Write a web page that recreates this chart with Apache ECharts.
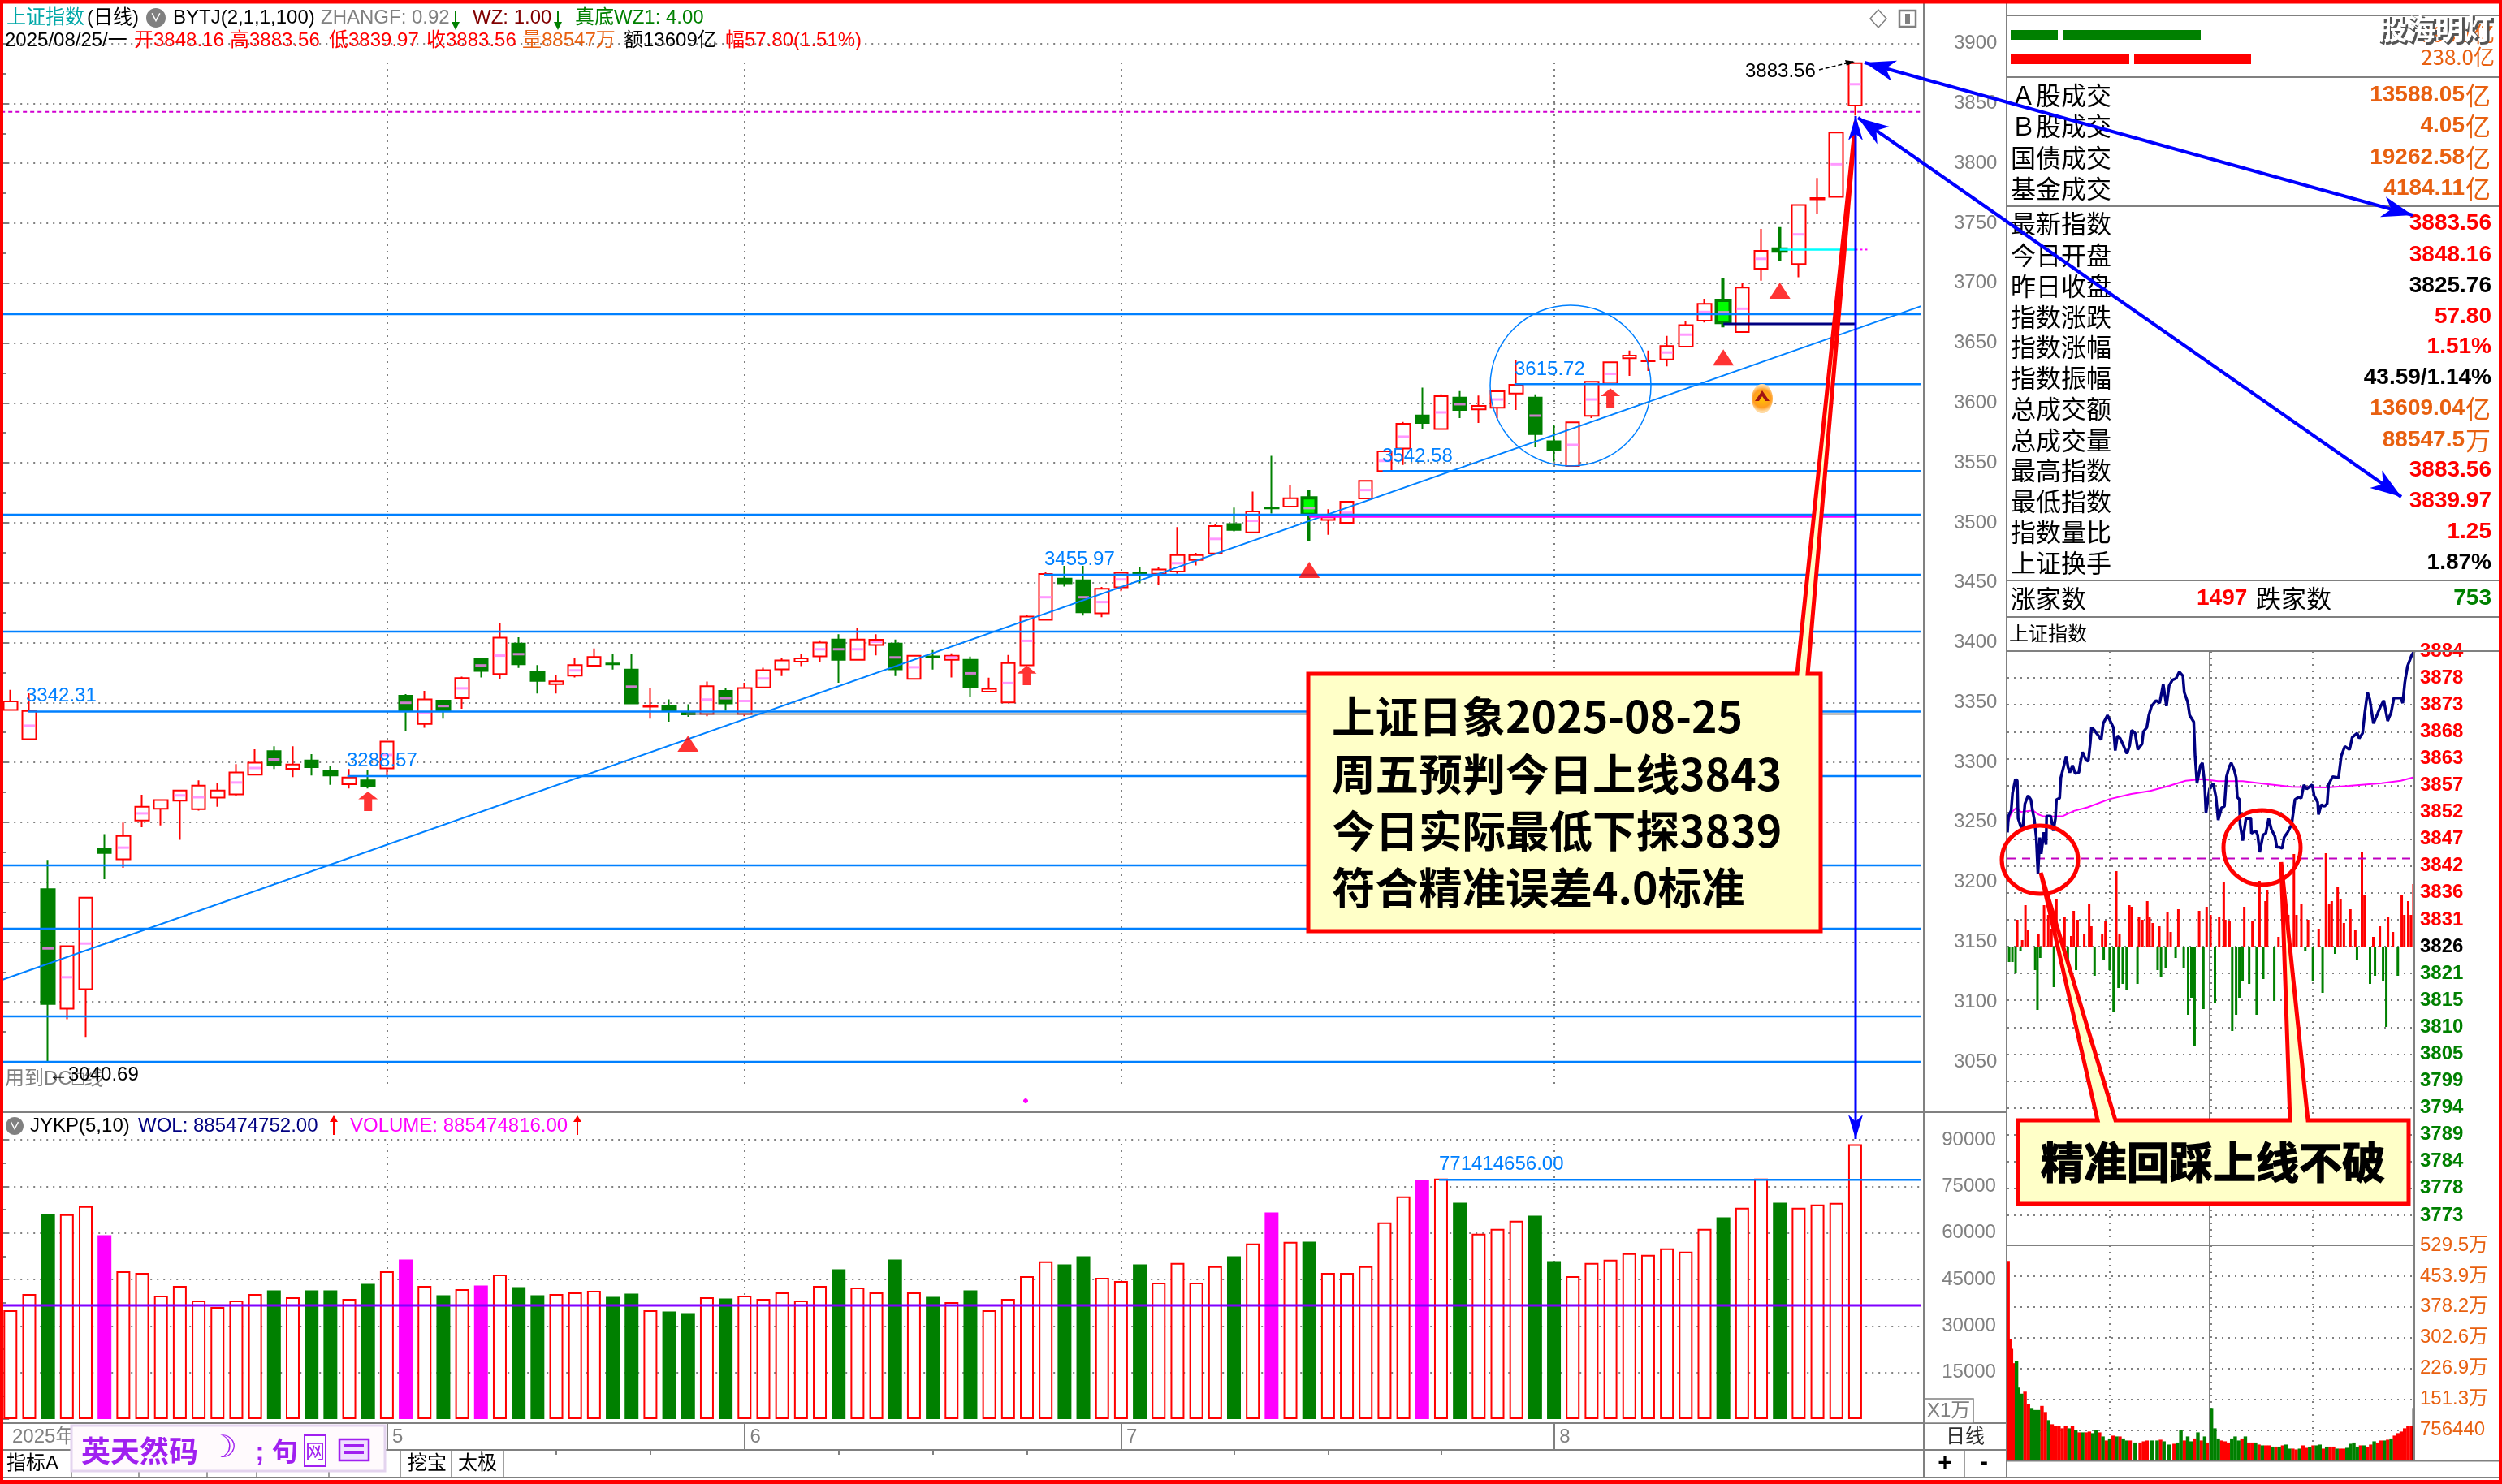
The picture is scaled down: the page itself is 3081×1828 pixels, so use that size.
<!DOCTYPE html>
<html><head><meta charset="utf-8"><style>html,body{margin:0;padding:0;background:#fff}#c{width:3081px;height:1828px}</style>
<script src="https://cdn.jsdelivr.net/npm/echarts@6/dist/echarts.min.js"></script></head><body><div id="c"></div><script>
const dates=['04-02','04-03','04-07','04-08','04-09','04-10','04-11','04-14','04-15','04-16','04-17','04-18','04-21','04-22','04-23','04-24','04-25','04-28','04-29','04-30','05-06','05-07','05-08','05-09','05-12','05-13','05-14','05-15','05-16','05-19','05-20','05-21','05-22','05-23','05-26','05-27','05-28','05-29','05-30','06-03','06-04','06-05','06-06','06-09','06-10','06-11','06-12','06-13','06-16','06-17','06-18','06-19','06-20','06-23','06-24','06-25','06-26','06-27','06-30','07-01','07-02','07-03','07-04','07-07','07-08','07-09','07-10','07-11','07-14','07-15','07-16','07-17','07-18','07-21','07-22','07-23','07-24','07-25','07-28','07-29','07-30','07-31','08-01','08-04','08-05','08-06','08-07','08-08','08-11','08-12','08-13','08-14','08-15','08-18','08-19','08-20','08-21','08-22','08-25'];
const padCats=['+1','+2','+3'];
const opens=[3343.8,3319.4,3194.1,3094.4,3110.6,3227.9,3219.1,3251.5,3261.2,3268,3260.9,3270.6,3273.2,3289.7,3309.4,3294.7,3301.5,3293.2,3281.8,3285,3295,3355.6,3332,3351.5,3353.5,3386.8,3373.8,3399.1,3375.9,3365.3,3372.4,3380.6,3382.6,3377.4,3346.5,3347,3342,3340.3,3359.7,3340.3,3362.6,3377.6,3384,3388.5,3402.6,3385.6,3398,3399.1,3369.7,3388.5,3385.6,3385.6,3359,3350,3381,3419,3453.4,3452,3424.3,3446,3458.3,3457.4,3459.2,3469,3474.3,3499,3491.9,3512.8,3513.5,3520.7,3502.3,3500,3520.3,3543.2,3562,3589.6,3578.2,3604.5,3594.6,3596,3607.9,3604.5,3568,3547.3,3589.2,3616.2,3637.4,3634.7,3636.3,3647,3668.7,3685.6,3659.2,3712,3728.5,3716,3770,3772,3848.16];
const closes=[3350.9,3342.9,3098.2,3146.5,3187,3224.4,3238.5,3262.9,3268.5,3276.5,3280.6,3276.5,3291.5,3299.7,3297.4,3298.2,3295.9,3289.1,3287.4,3279.7,3317.4,3342.9,3352.6,3342.9,3370.3,3376.2,3404.1,3381.8,3368,3367.6,3381.2,3388,3381.8,3349.1,3347.4,3342.9,3340,3363.5,3349.1,3362,3377,3385,3386.8,3400,3385.6,3402.6,3402.4,3377.6,3389,3387.8,3389,3363,3361.3,3382.9,3421.6,3457.2,3449.5,3425.2,3444.8,3458.3,3457.7,3461,3473,3473,3497.3,3494,3509.5,3511.9,3520.5,3506.8,3504.5,3517.6,3535,3559.5,3582.6,3583.3,3605.6,3594.1,3597.5,3609.7,3615.1,3573.9,3560.4,3583.8,3617.6,3634,3639.6,3635.4,3647.5,3665,3682.7,3667.1,3696.2,3727,3726.7,3765.2,3771,3825.76,3883.56];
const lows=[3343.8,3319.4,3048.8,3085.6,3070.9,3202.4,3212,3245.9,3247.4,3235.3,3259.7,3263,3271.5,3289.7,3294.4,3287.6,3289,3281.2,3278.2,3278.2,3288.5,3326.2,3328.8,3336.5,3344.7,3370.9,3369.4,3378.8,3357.4,3357.4,3370.9,3380.6,3377.4,3349.1,3336.5,3334,3338,3338.5,3343,3338.5,3362,3372,3380.3,3384,3366.5,3385.6,3389.4,3372,3369.7,3377.4,3370.9,3355,3359,3350,3381,3419,3446.8,3422.5,3421.2,3442.8,3449.5,3448.2,3457.4,3464.4,3474.3,3492.8,3491.9,3507.7,3513.5,3484.7,3490,3500,3520.3,3543,3548.2,3577.9,3578.2,3587.4,3583.3,3587.2,3594.1,3563,3550.9,3547.3,3587.4,3616.2,3622.5,3626.6,3630.6,3647,3667.1,3663,3659.2,3702,3718.5,3704.9,3758,3772,3839.97];
const highs=[3360.6,3357.6,3218.5,3146.5,3187,3240,3249.7,3272.9,3268.5,3276.5,3285,3282.4,3298.5,3310.9,3313.5,3313.5,3306.8,3297.4,3294.4,3293.2,3317.4,3357,3359.7,3351.5,3371.5,3386.8,3416.5,3404.4,3381.2,3373,3386.8,3395,3390.9,3390.9,3362.4,3352.6,3348.5,3367.4,3362.4,3366.5,3379,3387,3390.9,3401.8,3407,3412.6,3407,3402.6,3389,3393.8,3391,3388.3,3370.7,3389.6,3423.4,3458.8,3464,3464,3446.4,3458.3,3462.6,3462.6,3496.4,3474.8,3498.9,3512.6,3526,3555.9,3531.5,3527.5,3511.3,3517.6,3535,3559.5,3584.2,3612.8,3607.2,3609.9,3606.1,3609.7,3635.6,3607.2,3581.5,3583.8,3617.6,3634,3643.7,3643.7,3655.9,3668,3687,3704.5,3700.5,3745.2,3746.7,3765.2,3787.7,3825.76,3883.56];
const limeIdx=[69,91,94];
const midPrices=[null,3330.6,3144.7,3120.6,3148.8,null,3228.8,3257.4,null,3272.4,3270.9,null,3283.2,3295.3,3302.4,null,null,null,null,null,3306.2,3349.7,3341.5,3347,3361.8,3380.9,3389.1,3390.3,null,null,3376.8,null,null,3363.2,null,null,null,3352.4,3353.5,3351.2,3370,null,null,3394.4,3394.4,3394.4,3400.6,3387.6,3379.4,null,3387.6,3374.3,null,3366.2,3401.4,3437.8,null,3437.8,3433.8,3452.7,null,null,3466.2,null,3486.5,null,3501.6,null,null,3512.2,null,3508.3,3527.3,3551.6,3571.8,null,3592.1,3598.9,null,3602.9,null,3589.4,null,3565,3602.9,3624.3,null,null,3642.1,3657,3675.9,3675.7,3678.6,3720.3,null,3740.7,null,3799.2,3866];
const volumes=[35077,40315,66069,65982,68600,59259,47648,47125,39791,42934,38220,36125,38220,40315,41450,39268,41450,41450,38744,43545,47648,51402,42934,39879,41887,43021,46601,42498,39879,40315,40839,41363,39355,40402,35077,34641,34117,39268,38831,39791,38744,40839,38220,42934,48259,42410,40839,51402,40839,39355,37696,41450,35077,38744,46077,50791,49831,52450,45553,44506,49831,43982,50267,43982,49220,52450,56553,66592,57077,57164,47125,47125,49220,63362,71743,77068,77505,69735,59696,61267,63886,65545,50878,46077,50267,51315,53410,52886,54982,53934,61267,65021,68077,77505,69735,68077,69124,69648,88547];
const magentaVol=[5,21,25,67,75];
const greenVol=[2,14,16,17,19,23,27,28,32,33,35,36,38,44,47,49,51,56,57,60,65,69,77,81,82,91,94];
const fullLevels=[3674,3506.7,3409.2,3214,3161.1,3088,3050];
const partLevels=[[1.46,3342.31],[18.4,3288.57],[55.4,3456.6],[73.4,3543.2],[80.4,3615.72]];
const dashLevel=3843;
const trendLine=[[0,3118.1],[102,3680.8]];
const navyLine=[[91.5,3666],[98.5,3666]];
const grayLine=[[36.4,3340.4],[98.5,3340.4]];
const magentaLine=[[69.5,3505],[98.5,3505]];
const cyanLine=[[94.5,3728],[98.5,3728]];
const magentaDots=[[98.5,3728],[99.2,3728]];
const triMarks=[[36,3315.6],[69,3460.7],[91,3638],[94,3693.7]];
const arrowMarks=[[19,3267.5],[54,3372.5],[85,3604]];
const volAvg=36628, volHigh=77141, volHighStart=76.4;
const monthIdx={20:'5',39:'6',59:'7',82:'8'};
const weekIdx=[25,29,34,44,49,54,65,70,76];
const priceTicks=[3050,3900,50];
const volTicks=[0,90000,15000];
const tLine=[[0,3848.1],[.6,3851.3],[2.2,3852.4],[3,3855.8],[4.7,3858.5],[5.8,3858.2],[6.3,3850.8],[7.9,3849.2],[9,3848.7],[10.3,3853.7],[12.2,3855.3],[13.8,3854.5],[14.8,3852.4],[15.9,3850.5],[17,3847.1],[18,3840],[19.1,3847.1],[19.9,3843.9],[21.5,3848.1],[22.8,3845.7],[23.1,3851.3],[25.5,3851.3],[27.1,3848.4],[28.3,3850.8],[28.9,3854.5],[30.8,3854.8],[31.5,3858.8],[33.1,3860.9],[34.7,3863],[35.7,3860.9],[36.8,3859.8],[38.4,3861.2],[40,3859.6],[42.1,3859.8],[43.2,3862],[44.3,3863.8],[46.4,3862.2],[47.7,3862],[48.8,3865.4],[49.6,3868.6],[51.2,3868.1],[53.7,3867],[55.3,3866.2],[56.5,3869.4],[59,3871],[60.9,3869.7],[62.5,3868.6],[63.6,3864.1],[64.9,3867],[66.5,3866.5],[68.4,3865.1],[70.5,3863.5],[72.1,3865.1],[73.3,3868.1],[75.3,3867.5],[76.9,3864.3],[79.4,3865.4],[80.2,3867.8],[82.2,3868.6],[83.4,3871],[85,3872.8],[87.7,3873.9],[89.8,3873.4],[91.9,3877.1],[93.8,3872.8],[95.4,3876.8],[97.3,3877.9],[99.4,3878.2],[101.4,3879.5],[103.5,3878.7],[104.3,3875.5],[106.3,3873.6],[107.5,3871],[109.9,3869.7],[110.7,3863],[111.8,3857.7],[113.9,3861.2],[115,3861.7],[116.3,3857.7],[117.1,3851.9],[119.2,3856.6],[121.4,3857.7],[123,3855],[124.3,3850.5],[126.3,3852.9],[128,3853.2],[129.2,3859],[130.8,3860.9],[132,3861.7],[133.7,3860.4],[134.9,3858.8],[135.6,3855],[136.9,3854.5],[137.2,3849.7],[138.8,3846.5],[140.7,3850.8],[143.6,3850.8],[143.9,3847.9],[146.5,3848.4],[147.6,3847.6],[148.8,3844.2],[150.8,3847.6],[152.4,3847.9],[154.1,3850.8],[155.7,3848.7],[157.8,3847.3],[158.9,3845.2],[160.5,3845.2],[162.1,3845],[163.2,3847.1],[165.3,3848.1],[167.7,3849.7],[169.6,3854.5],[171.7,3855],[173.3,3854.8],[174.9,3857.4],[176.5,3856.6],[179.8,3857.4],[180.9,3855.3],[183,3854],[183.5,3851.6],[185.1,3853.5],[187,3853.2],[188.6,3853.7],[189.4,3857.4],[191.8,3859],[195.3,3858.8],[196.9,3863],[199,3864.9],[201.8,3864.3],[203.4,3866.7],[206.3,3867.5],[207.5,3866.5],[209.5,3867.5],[210.8,3871.5],[212.4,3875.5],[213.7,3874.2],[215.9,3869.4],[218.3,3871.3],[219.9,3872.6],[222,3873.9],[224.3,3869.9],[226.3,3871.5],[228,3874.4],[232,3874.4],[233.2,3873.4],[234.4,3877.4],[236,3880.6],[238.4,3882.7],[240,3883.56]];
const tAvg=[[0,3849.7],[2.2,3851.9],[5.1,3852.9],[7.9,3852.1],[15.1,3852.4],[18.3,3851.6],[20.7,3851.3],[27.2,3851.2],[32.8,3851.3],[39.2,3852.3],[47.2,3853],[60.1,3854.6],[73,3855.6],[84.2,3856.2],[95.4,3857.2],[105.1,3858.2],[114.7,3858.5],[124.3,3858.1],[138.8,3858.1],[151.6,3857.6],[167.7,3857],[188.6,3856.9],[201.5,3857.2],[220.7,3857.7],[232,3858.2],[240,3858.9]];
const tBase=3825.76, tStep=5.2545;
const tLabels=['3768','3773','3778','3784','3789','3794','3799','3805','3810','3815','3821','3826','3831','3836','3842','3847','3852','3857','3863','3868','3873','3878','3884'];
const flowUp=[[5.8,33],[8.7,8],[10.6,51],[12.1,20],[18.3,15],[21.6,51],[24.1,39],[26,22],[28.9,58],[33.7,36],[37.6,13],[39.1,44],[41.4,33],[45.3,15],[48.2,52],[49.5,25],[55.9,15],[57.8,32],[64.2,93],[66.1,15],[71.9,51],[73.2,49],[77.6,36],[79.6,33],[82.5,56],[83.8,36],[85.7,29],[89.6,25],[94.4,42],[96.3,18],[100.8,46],[113.1,44],[117.5,49],[119.8,39],[124.9,36],[127.6,80],[128.5,33],[131,32],[139.7,49],[144.5,32],[148.7,81],[152.2,56],[153.2,70],[159.9,12],[163.8,46],[165.7,39],[169,114],[170.5,39],[173.4,52],[177.3,33],[183.6,22],[187.9,115],[189.8,52],[191.3,56],[194.8,73],[196.5,59],[198.5,29],[202.3,46],[205.2,20],[209.1,117],[210.6,63],[215.8,12],[219.7,25],[224.5,36],[227.4,18],[232.6,63],[234.1,39],[236.4,56],[238,39],[239.5,77]];
const flowDown=[[1,-19],[2.9,-19],[4.8,-33],[7.7,-5],[16.4,-29],[17.7,-78],[19.3,-14],[27.4,-50],[35.6,-22],[40.5,-29],[51.4,-36],[56.8,-17],[60.3,-29],[62.6,-80],[65.5,-51],[68,-46],[70.3,-53],[76.7,-46],[88.6,-29],[90.6,-37],[93.4,-26],[99.2,-14],[104,-26],[106.6,-84],[108.5,-63],[110.4,-122],[115.6,-77],[122.4,-70],[132.6,-104],[134.9,-84],[136.8,-63],[138.7,-43],[142.6,-46],[147,-84],[150.9,-40],[157.4,-67],[163.8,-63],[175.7,-5],[180.2,-43],[185.9,-57],[193.3,-9],[206.2,-16],[213.9,-46],[216.8,-36],[221.6,-43],[223.5,-99],[230.3,-36]];
const tradeRed=[[0,491],[1,300],[2,275],[3,240],[4,225],[10,170],[12,140],[20,135],[22,120],[26,90],[28,85],[30,85],[32,80],[34,85],[38,85],[42,70],[46,70],[48,72],[54,70],[58,50],[62,62],[66,60],[72,50],[78,45],[80,48],[82,50],[90,52],[98,42],[104,50],[110,55],[114,50],[118,45],[126,50],[128,48],[130,45],[138,55],[142,45],[144,45],[148,40],[152,38],[154,38],[158,35],[162,38],[168,30],[170,28],[174,38],[176,32],[180,38],[186,30],[190,35],[192,35],[196,30],[198,30],[208,38],[212,35],[214,40],[218,45],[220,50],[224,52],[228,62],[230,68],[232,72],[234,80],[236,85],[238,85]];
const tradeGreen=[[5,245],[6,180],[8,165],[14,130],[16,125],[18,125],[24,100],[36,80],[40,75],[44,70],[50,68],[52,75],[56,60],[60,55],[64,60],[68,55],[70,50],[75,45],[85,50],[88,50],[92,48],[95,40],[100,45],[102,75],[106,60],[108,48],[112,70],[116,60],[120,130],[122,80],[124,55],[132,55],[134,60],[136,50],[140,60],[146,45],[150,38],[156,35],[160,35],[164,40],[166,30],[172,30],[178,35],[182,38],[184,40],[188,35],[194,30],[200,32],[202,42],[204,45],[206,35],[210,38],[216,48],[222,50],[226,55]];
const tradeBlack=[[239.6,130]];
const volLabels=['','756440','151.3万','226.9万','302.6万','378.2万','453.9万','529.5万'];
const quoteTop=[['\uff21股成交','13588.05','亿','#e86010'],['\uff22股成交','4.05','亿','#e86010'],['国债成交','19262.58','亿','#e86010'],['基金成交','4184.11','亿','#e86010']];
const quoteMain=[['最新指数','3883.56','','#ff0000'],['今日开盘','3848.16','','#ff0000'],['昨日收盘','3825.76','','#000'],['指数涨跌','57.80','','#ff0000'],['指数涨幅','1.51%','','#ff0000'],['指数振幅','43.59/1.14%','','#000'],['总成交额','13609.04','亿','#e86010'],['总成交量','88547.5','万','#e86010'],['最高指数','3883.56','','#ff0000'],['最低指数','3839.97','','#ff0000'],['指数量比','1.25','','#ff0000'],['上证换手','1.87%','','#000']];
const calloutLines=['上证日象2025-08-25','周五预判今日上线3843','今日实际最低下探3839','符合精准误差4.0标准'];
const sideLabel='精准回踩上线不破';

const FONT='"Liberation Sans","Noto Sans CJK SC",sans-serif';
const CJK='"Noto Sans CJK SC","Liberation Sans",sans-serif';
const GRAY='#808080',RED='#ff0000',BLUE='#0080ff',G=[];
function T(x,y,s,fill,size,o){o=o||{};const st={x,y,text:s,fill,font:(o.w||'normal')+' '+size+'px '+(o.f||FONT),align:o.a||'left',verticalAlign:'middle',textAlign:o.a||'left',textVerticalAlign:'middle'};if(o.stroke){st.stroke=o.stroke;st.lineWidth=o.lw||1;}G.push({type:'text',z:o.z||110,silent:true,style:st});}
function L(x1,y1,x2,y2,c,w,o){o=o||{};G.push({type:'line',z:o.z||105,silent:true,shape:{x1,y1,x2,y2},style:{stroke:c,lineWidth:w,lineDash:o.d||null}});}
function P(pts,fill,stroke,w,z){G.push({type:'polygon',z:z||120,silent:true,shape:{points:pts},style:{fill,stroke,lineWidth:w||0,lineJoin:'miter'}});}
function R(x,y,w,h,fill,stroke,lw,z){G.push({type:'rect',z:z||105,silent:true,shape:{x,y,width:w,height:h},style:{fill,stroke:stroke||null,lineWidth:lw||0}});}
function E(cx,cy,rx,ry,stroke,lw,fill,z){G.push({type:'ellipse',z:z||120,silent:true,shape:{cx,cy,rx,ry},style:{fill:fill||'transparent',stroke,lineWidth:lw}});}
function head(tx,ty,fx,fy,len,hw,c){const d=Math.hypot(tx-fx,ty-fy),ux=(tx-fx)/d,uy=(ty-fy)/d,bx=tx-ux*len,by=ty-uy*len,nx=tx-ux*len*.72,ny=ty-uy*len*.72;P([[tx,ty],[bx-uy*hw,by+ux*hw],[nx,ny],[bx+uy*hw,by-ux*hw]],c,c,0,125);}
function dblArrow(ax,ay,bx,by,w,len,hw,c){L(ax,ay,bx,by,c,w,{z:124});head(ax,ay,bx,by,len,hw,c);head(bx,by,ax,ay,len,hw,c);}

L(4,1370,2471,1370,GRAY,2);L(4,1753,2471,1753,GRAY,2);L(4,1786,2471,1786,GRAY,2);L(4,1820,3077,1820,GRAY,2);
L(2369,4,2369,1820,GRAY,2);L(2471,4,2471,1820,GRAY,2);
L(2471,19,3077,19,GRAY,2);L(2471,95,3077,95,GRAY,2);L(2471,254,3077,254,GRAY,2);L(2471,715,3077,715,GRAY,2);L(2471,760,3077,760,GRAY,2);L(2471,802,3077,802,GRAY,2);L(2471,1534,2973,1534,GRAY,2);L(2471,1799.5,3077,1799.5,GRAY,2);L(2973,802,2973,1799.5,GRAY,2);L(2721,802,2721,1799.5,GRAY,2);
[88,171,255,316,405,493,556,620].forEach(x=>L(x,1786,x,1820,GRAY,1.5));L(2419,1786,2419,1820,GRAY,1.5);
R(0,0,3081,4.5,RED,null,0,130);R(0,0,4,1828,RED,null,0,130);R(3077,0,4,1828,RED,null,0,130);R(0,1823,3081,5,RED,null,0,130);

T(8,22,'上证指数','#00a8a8',24);T(107,22,'(日线)','#000',24);
E(192,22,12,12,GRAY,0,GRAY,110);T(192,22,'∨','#fff',14,{a:'center',w:'bold'});
T(213,22,'BYTJ(2,1,1,100)','#000',24);T(395,22,'ZHANGF: 0.92','#808080',24);L(561,14,561,34,'#008000',2);P([[556,27],[566,27],[561,37]],'#008000',null,0,110);
T(582,22,'WZ: 1.00','#800000',24);L(687,14,687,34,'#008000',2);P([[682,27],[692,27],[687,37]],'#008000',null,0,110);
T(708,22,'真底WZ1: 4.00','#008000',24);
T(6,50.5,'2025/08/25/一','#000',24);T(165,50.5,'开3848.16',RED,24);T(283,50.5,'高3883.56',RED,24);T(405,50.5,'低3839.97',RED,24);T(525,50.5,'收3883.56',RED,24);T(643,50.5,'量88547万','#e86010',24);T(768,50.5,'额13609亿','#000',24);T(893,50.5,'幅57.80(1.51%)',RED,24);
P([[2313,12],[2323,23],[2313,34],[2303,23]],'transparent',GRAY,1.5,110);R(2339,13,20,20,'#fff',GRAY,2.5,110);R(2346,17,6,12,GRAY,null,0,110);

T(32,857,'3342.31',BLUE,24);T(427,937,'3288.57',BLUE,24);T(1286,689,'3455.97',BLUE,24);T(1702,562,'3542.58',BLUE,24);T(1865,455,'3615.72',BLUE,24);
T(2149,88,'3883.56','#000',24);L(2240,86,2282,76,'#000',1.5,{d:[5,3]});P([[2284,76],[2272,74],[2274,81]],'#000',null,0,110);
T(6,1329,'用到DC□线','#808080',24);T(60,1324,'←3040.69','#000',24);
E(1263,1356,2.5,2.5,'#ff00ff',1,'#ff00ff',110);
E(1934,475,99,99,BLUE,1.5,null,108);
G.push({type:'ellipse',z:110,silent:true,shape:{cx:2170,cy:491,rx:13,ry:18},style:{fill:{type:'radial',x:.5,y:.5,r:.6,colorStops:[{offset:0,color:'#ffc400'},{offset:.7,color:'#ff9c20'},{offset:1,color:'#ffd9a0'}]}}});
P([[2170,481],[2179,494],[2174,494],[2170,488],[2166,494],[2161,494]],'#a01414',null,0,111);

E(18,1387,11,11,GRAY,0,GRAY,110);T(18,1387,'∨','#fff',13,{a:'center',w:'bold'});
T(37,1387,'JYKP(5,10)','#000',24);T(170,1387,'WOL: 885474752.00','#000080',24);L(411,1375,411,1398,RED,2);P([[406,1382],[416,1382],[411,1374]],RED,null,0,110);
T(431,1387,'VOLUME: 885474816.00','#ff00ff',24);L(711,1375,711,1398,RED,2);P([[706,1382],[716,1382],[711,1374]],RED,null,0,110);
T(1772,1434,'771414656.00',BLUE,24);
R(2370,1723,60,30,'#fff',GRAY,1.5,106);T(2373,1738,'X1万','#808080',24);
T(15,1770,'2025年','#808080',24);T(2420,1770,'日线','#303030',24,{a:'center'});T(2395,1803,'+','#000',30,{a:'center',w:'bold'});T(2443,1802,'-','#000',30,{a:'center',w:'bold'});
T(8,1803,'指标A','#000',24);T(95,1803,'训练','#000',24);T(190,1803,'横截','#000',24);T(265,1803,'ST','#000',24);T(330,1803,'九转','#000',24);T(420,1803,'预测','#000',24);T(502,1803,'挖宝','#000',24);T(564,1803,'太极','#000',24);
R(88,1756,386,56,'#fffafd','#e4d4ef',3,112);
T(100,1787,'英天然码','#a020f0',36,{w:'bold',f:CJK,z:113});T(275,1785,'☽','#a020f0',38,{a:'center',f:'"DejaVu Sans",sans-serif',z:113});T(320,1790,';','#a020f0',34,{a:'center',w:'bold',z:113});T(351,1787,'句','#a020f0',32,{a:'center',w:'bold',f:CJK,z:113});R(375,1768,26,38,'#fff','#a020f0',2,113);T(388,1787,'网','#a020f0',24,{a:'center',f:CJK,z:113});R(418,1773,36,26,'#f0e0ff','#a020f0',2.5,113);R(424,1779,24,4,'#a020f0',null,0,114);R(424,1787,24,4,'#a020f0',null,0,114);

R(2476,37,58,12,'#008000',null,0,106);R(2540,37,170,12,'#008000',null,0,106);R(2476,67,146,12,RED,null,0,106);R(2628,67,144,12,RED,null,0,106);
T(3072,42,'393.1亿','#e86010',26,{a:'right',f:CJK});T(3072,70,'238.0亿','#e86010',26,{a:'right',f:CJK});
T(2931,38,'股海明灯','#555555',35,{w:'bold',f:CJK,z:114,stroke:'#555555',lw:2});
T(2929,36,'股海明灯','#ffffff',35,{w:'bold',f:CJK,z:115});
function row(y,r){T(2476,y,r[0],'#000',31,{f:CJK});const unit=r[2];if(unit){T(3067,y,unit,r[3],31,{a:'right',f:CJK});T(3035,y,r[1],r[3],28,{a:'right',w:'bold'});}else T(3068,y,r[1],r[3],28,{a:'right',w:'bold'});}
[117,155.6,194,232].forEach((y,i)=>row(y,quoteTop[i]));
[275.5,313.8,352,390,427.6,465,503.6,541.8,579.6,617,655.6,693].forEach((y,i)=>row(y,quoteMain[i]));
T(2476,737,'涨家数','#000',31,{f:CJK});T(2705,737,'1497',RED,28,{w:'bold'});T(2778,737,'跌家数','#000',31,{f:CJK});T(3068,737,'753','#008000',28,{a:'right',w:'bold'});
T(2474,780,'上证指数','#000',24,{f:CJK});

dblArrow(2296,77,2971,265,4,38,13,'#0000ff');
dblArrow(2288,145,2957,612,4,38,13,'#0000ff');
P([[1611,830],[2213,830],[2285,150],[2226,830],[2242,830],[2242,1147],[1611,1147]],'#ffffc8',RED,5,121);
L(2285,143,2285,1403,'#0000ff',3,{z:123});head(2285,143,2285,1403,30,9,'#0000ff');head(2285,1403,2285,143,30,9,'#0000ff');
[883,954,1024,1094].forEach((y,i)=>T(1640,y,calloutLines[i],'#000',53.5,{w:'bold',f:CJK,z:122}));
E(2512,1059,47,42,RED,5);E(2785.5,1044,47.5,46,RED,5);
P([[2485,1380],[2583,1380],[2513,1075],[2605,1380],[2820,1380],[2809,1062],[2842,1380],[2966,1380],[2966,1483],[2485,1483]],'#ffffc8',RED,5,121);
T(2725,1432,sideLabel,'#000',53,{a:'center',w:'bold',f:CJK,z:122,stroke:'#000',lw:1.5});

const cats=dates.concat(padCats);
const noAxis={axisLine:{show:false},axisTick:{show:false},axisLabel:{show:false},splitLine:{show:false}};
const dotted={show:true,lineStyle:{color:GRAY,width:2,type:[2,6]}};
const GL=1.2,GW=102*23.18,HL=12.8,HW=101*23.18;
const grid=[
 {left:GL,top:53.6,width:GW,height:1254.4},
 {left:GL,top:1404,width:GW,height:344},
 {left:HL,top:77,width:HW,height:1265},
 {left:HL,top:1409,width:HW,height:339},
 {left:HL,top:1753,width:HW,height:33},
 {left:2472,top:802,width:501,height:728},
 {left:2472,top:1534,width:501,height:265.5}
];
const mInt=i=>monthIdx[i]!==undefined;
const helperX=(gi)=>({type:'category',gridIndex:gi,data:cats,boundaryGap:false,...noAxis,splitLine:{show:true,interval:mInt,lineStyle:{color:GRAY,width:2,type:[2,6]}}});
const xAxis=[
 {type:'category',gridIndex:0,data:cats,...noAxis},
 {type:'category',gridIndex:1,data:cats,...noAxis},
 helperX(2),helperX(3),
 {type:'category',gridIndex:4,data:cats,boundaryGap:false,position:'top',axisLine:{show:false},
  axisTick:{show:true,inside:true,length:6,alignWithLabel:true,interval:i=>weekIdx.includes(i),lineStyle:{color:GRAY,width:2}},
  axisLabel:{show:true,inside:true,margin:5,interval:mInt,align:'left',color:GRAY,fontSize:24,fontFamily:FONT,formatter:(v,i)=>' '+(monthIdx[i]||''),hideOverlap:false},
  splitLine:{show:true,interval:mInt,lineStyle:{color:GRAY,width:2}}},
 {type:'value',gridIndex:0,position:'top',min:0,max:102,show:true,...noAxis},
 {type:'value',gridIndex:1,position:'top',min:0,max:102,show:true,...noAxis},
 {type:'value',gridIndex:5,min:0,max:240,interval:60,axisLine:{show:false},axisTick:{show:false},axisLabel:{show:false},splitLine:{...dotted,showMinLine:false,showMaxLine:false}},
 {type:'value',gridIndex:6,min:0,max:240,interval:60,axisLine:{show:false},axisTick:{show:false},axisLabel:{show:false},splitLine:{...dotted,showMinLine:false,showMaxLine:false}}
];
const axisCommon={position:'right',offset:3.4,axisLine:{show:false},axisTick:{show:true,length:10,lineStyle:{color:GRAY,width:2}},minorTick:{show:true,splitNumber:2,length:6,lineStyle:{color:GRAY,width:2}},splitLine:dotted};
const hiddenY=gi=>({type:'value',gridIndex:gi,min:0,max:1,...noAxis});
const yAxis=[
 {type:'value',gridIndex:0,min:priceTicks[0],max:priceTicks[1],interval:priceTicks[2],...axisCommon,axisLabel:{show:true,margin:37,color:GRAY,fontSize:24,fontFamily:FONT,formatter:v=>String(v)}},
 {type:'value',gridIndex:1,min:volTicks[0],max:volTicks[1],interval:volTicks[2],...axisCommon,splitLine:{...dotted,showMinLine:false},axisLabel:{show:true,margin:89,align:'right',color:GRAY,fontSize:24,fontFamily:FONT,formatter:v=>v===0?'':String(v)}},
 hiddenY(2),hiddenY(3),hiddenY(4),
 {type:'value',gridIndex:5,min:tBase-tStep*11,max:tBase+tStep*11,...noAxis},
 {type:'value',gridIndex:5,position:'right',min:-11,max:11,interval:1,axisLine:{show:false},axisTick:{show:false},splitLine:{...dotted,showMinLine:false,showMaxLine:false},
  axisLabel:{show:true,margin:7,fontSize:24,fontWeight:'bold',fontFamily:FONT,formatter:v=>v===-11?'':tLabels[v+11],color:v=>v>0?'#ff0000':(v<0?'#008000':'#000')}},
 {type:'value',gridIndex:5,min:-364,max:364,...noAxis},
 {type:'value',gridIndex:6,min:0,max:529.5,...noAxis},
 {type:'value',gridIndex:6,position:'right',min:0,max:7,interval:1,axisLine:{show:false},axisTick:{show:false},splitLine:{...dotted,showMinLine:false,showMaxLine:false},
  axisLabel:{show:true,margin:7,fontSize:24,color:'#e86010',fontFamily:FONT,formatter:v=>volLabels[v]}}
];
const candleData=dates.map((d,i)=>{const v=[opens[i],closes[i],lows[i],highs[i]];return limeIdx.includes(i)?{value:v,itemStyle:{color0:'#00ff00',color:'#00ff00',borderColor0:'#008000',borderColor:'#008000',borderWidth:4}}:v;});
const volData=dates.map((d,i)=>{
 if(magentaVol.includes(i))return{value:volumes[i],itemStyle:{color:'#ff00ff'}};
 if(greenVol.includes(i))return{value:volumes[i],itemStyle:{color:'#008000'}};
 return{value:volumes[i],itemStyle:{color:'#fff',borderColor:RED,borderWidth:2}};});
const lvl=(name,data,color,width,z,dash)=>({name,type:'line',xAxisIndex:5,yAxisIndex:0,data,symbol:'none',silent:true,animation:false,clip:false,z:z||6,lineStyle:{color,width,type:dash||'solid'}});
const upArrow='path://M12 0 L24 12 L17 12 L17 30 L7 30 L7 12 L0 12 Z';
const series=[
 {name:'K',type:'candlestick',xAxisIndex:0,yAxisIndex:0,data:candleData,barWidth:17,clip:false,animation:false,z:4,itemStyle:{color:'#fff',color0:'#008000',borderColor:RED,borderColor0:'#008000',borderWidth:2}},
 {name:'mid',type:'scatter',xAxisIndex:0,yAxisIndex:0,data:midPrices.map((v,i)=>v==null?null:[i,v]).filter(Boolean),symbol:'rect',symbolSize:[14,3],itemStyle:{color:'#ff80ff'},animation:false,silent:true,z:5},
 {name:'tri',type:'scatter',xAxisIndex:0,yAxisIndex:0,data:triMarks,symbol:'triangle',symbolSize:[26,20],itemStyle:{color:RED},animation:false,silent:true,z:7},
 {name:'arrow',type:'scatter',xAxisIndex:0,yAxisIndex:0,data:arrowMarks,symbol:upArrow,symbolSize:[24,24],itemStyle:{color:RED},animation:false,silent:true,z:7},
 lvl('trend',trendLine,BLUE,2,6),
 lvl('mag',magentaLine,'#ff00ff',2.5,6),
 ...fullLevels.map((v,i)=>lvl('full'+i,[[0,v],[102,v]],BLUE,2.5,6)),
 ...partLevels.map((p,i)=>lvl('part'+i,[[p[0],p[1]],[102,p[1]]],BLUE,2.5,6)),
 lvl('dash',[[0,dashLevel],[102,dashLevel]],'#d000d0',2,6,[5,4]),
 lvl('navy',navyLine,'#000080',3,6),lvl('gray',grayLine,GRAY,2,5),lvl('cyan',cyanLine,'#00ffff',2.5,6),lvl('magd',magentaDots,'#ff00ff',2,6,[3,3]),
 {name:'vol',type:'bar',xAxisIndex:1,yAxisIndex:1,data:volData,barWidth:17,animation:false,silent:true,z:3},
 {name:'volAvg',type:'line',xAxisIndex:6,yAxisIndex:1,data:[[0,volAvg],[102,volAvg]],symbol:'none',lineStyle:{color:'#8000ff',width:3},animation:false,silent:true,z:6},
 {name:'volHigh',type:'line',xAxisIndex:6,yAxisIndex:1,data:[[volHighStart,volHigh],[102,volHigh]],symbol:'none',lineStyle:{color:BLUE,width:2.5},animation:false,silent:true,z:6},
 {name:'flowUp',type:'bar',xAxisIndex:7,yAxisIndex:7,data:flowUp,barWidth:3,itemStyle:{color:RED},animation:false,silent:true,z:3,barGap:'-100%'},
 {name:'flowDown',type:'bar',xAxisIndex:7,yAxisIndex:7,data:flowDown,barWidth:3,itemStyle:{color:'#008000'},animation:false,silent:true,z:3,barGap:'-100%'},
 {name:'avg',type:'line',xAxisIndex:7,yAxisIndex:5,data:tAvg,symbol:'none',smooth:false,lineStyle:{color:'#ff00ff',width:2},animation:false,silent:true,z:4},
 {name:'price',type:'line',xAxisIndex:7,yAxisIndex:5,data:tLine,symbol:'none',lineStyle:{color:'#000080',width:3.5},animation:false,silent:true,z:5},
 {name:'dash842',type:'line',xAxisIndex:7,yAxisIndex:5,data:[[0,3843],[240,3843]],symbol:'none',lineStyle:{color:'#c000c0',width:2,type:[10,8]},animation:false,silent:true,z:4},
 {name:'tradeRed',type:'bar',xAxisIndex:8,yAxisIndex:8,data:tradeRed,barWidth:4.4,itemStyle:{color:RED},animation:false,silent:true,z:3,barGap:'-100%'},
 {name:'tradeGreen',type:'bar',xAxisIndex:8,yAxisIndex:8,data:tradeGreen,barWidth:4.4,itemStyle:{color:'#008000'},animation:false,silent:true,z:3,barGap:'-100%'},
 {name:'tradeBlack',type:'bar',xAxisIndex:8,yAxisIndex:8,data:tradeBlack,barWidth:3,itemStyle:{color:'#000'},animation:false,silent:true,z:3,barGap:'-100%'}
];
const chart=echarts.init(document.getElementById('c'),null,{width:3081,height:1828,renderer:'canvas'});
chart.setOption({backgroundColor:'#fff',animation:false,grid,xAxis,yAxis,series,graphic:{elements:G}});
</script></body></html>
